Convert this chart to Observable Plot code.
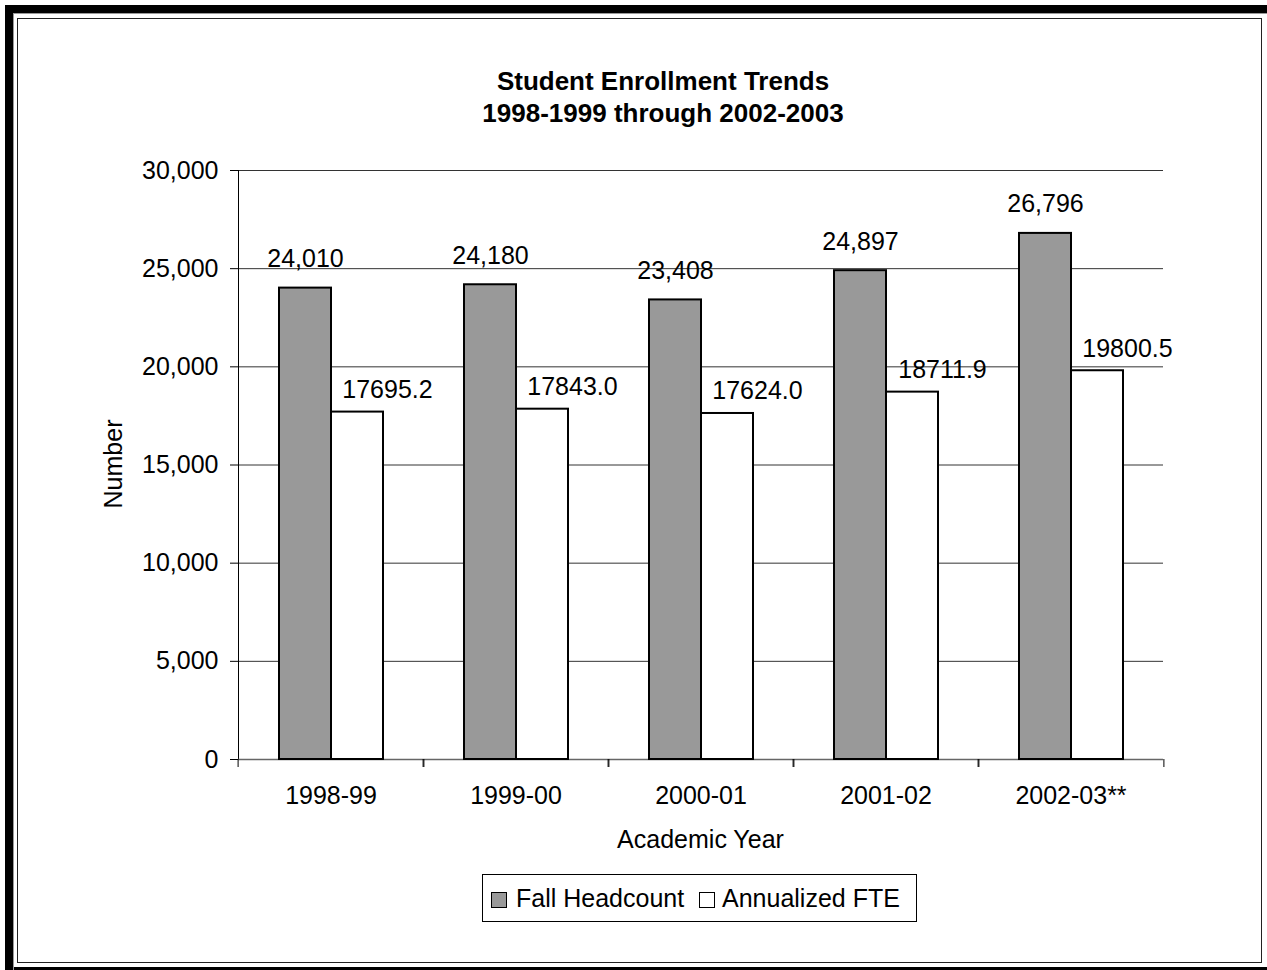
<!DOCTYPE html>
<html>
<head>
<meta charset="utf-8">
<script src="https://cdn.jsdelivr.net/npm/d3@7"></script>
<script src="https://cdn.jsdelivr.net/npm/@observablehq/plot@0.6"></script>
<style>
html, body { margin: 0; padding: 0; background: #fff; overflow: hidden; width: 1267px; height: 970px; }
#page { position: relative; width: 1267px; height: 970px; font-family: Arial, "Liberation Sans", sans-serif; color: #000; overflow: hidden; }
.abs { position: absolute; }
#outer { left: 5px; top: 5px; width: 1320px; height: 954px; border: 8px solid #000; }
#shade { left: 13px; top: 13px; width: 1300px; height: 1000px; border-left: 1px solid #999; border-top: 1px solid #999; }
#inner { left: 17px; top: 18px; width: 1243px; height: 943px; border: 1px solid #222; }
#chart { left: 0; top: 140px; }
#title { left: 413px; top: 65px; width: 500px; text-align: center; font-weight: bold; font-size: 26px; line-height: 32px; }
#ytitle { left: 113px; top: 464px; font-size: 25px; white-space: nowrap; transform: translate(-50%, -50%) rotate(-90deg); line-height: 30px; }
#xtitle { left: 500px; top: 824px; width: 401px; text-align: center; font-size: 25px; line-height: 30px; }
#legend { left: 482px; top: 874px; width: 433px; height: 46px; border: 1px solid #000; background: #fff; font-size: 25px; line-height: 46px; white-space: nowrap; }
.sw { position: absolute; top: 17px; width: 14px; height: 14px; border: 1px solid #000; }
.lab { position: absolute; top: 0; }
</style>
</head>
<body>
<div id="page">
  <div id="outer" class="abs"></div>
  <div id="shade" class="abs"></div>
  <div id="inner" class="abs"></div>
  <div id="chart" class="abs"></div>
  <div id="title" class="abs">Student Enrollment Trends<br>1998-1999 through 2002-2003</div>
  <div id="ytitle" class="abs">Number</div>
  <div id="xtitle" class="abs">Academic Year</div>
  <div id="legend" class="abs"></div>
</div>
<script>
// ---- data ----
const years = ["1998-99", "1999-00", "2000-01", "2001-02", "2002-03**"];
const seriesNames = ["Fall Headcount", "Annualized FTE"];
const fallHeadcount = [24010, 24180, 23408, 24897, 26796];
const annualizedFTE = [17695.2, 17843.0, 17624.0, 18711.9, 19800.5];
const yTicks = [0, 5000, 10000, 15000, 20000, 25000, 30000];
const seriesColors = ["#999999", "#ffffff"];

const data = years.flatMap((year, i) => [
  {year, series: seriesNames[0], value: fallHeadcount[i]},
  {year, series: seriesNames[1], value: annualizedFTE[i]}
]);

const W = 1267, H = 730, mL = 236, mR = 102, mT = 30, mB = 111;
const facetHalf = (W - mL - mR) / years.length / 2;
const fontFam = 'Arial, "Liberation Sans", sans-serif';

const chart = Plot.plot({
  width: W, height: H,
  marginLeft: mL, marginRight: mR, marginTop: mT, marginBottom: mB,
  style: {fontFamily: fontFam, fontSize: "25px", background: "none", overflow: "visible", color: "#000"},
  fx: {domain: years, padding: 0, label: null},
  x: {domain: seriesNames, paddingInner: 0, paddingOuter: 0.753, align: 0.5, axis: null},
  y: {domain: [0, 30000], axis: null},
  color: {domain: seriesNames, range: seriesColors},
  marks: [
    Plot.gridY(yTicks.filter(d => d > 0), {stroke: "#333", strokeOpacity: 1}),
    Plot.axisY(yTicks, {tickFormat: d3.format(","), tickSize: 8, tickPadding: 12, fontSize: 25, label: null, stroke: "#000"}),
    Plot.frame({anchor: "left", facetAnchor: "left", stroke: "#000"}),
    Plot.ruleY([0], {stroke: "#666", strokeWidth: 1.5}),
    Plot.axisFx({anchor: "bottom", tickSize: 8, fill: "none", label: null, dx: -facetHalf, stroke: "#000"}),
    Plot.axisFx({anchor: "bottom", tickSize: 8, fill: "none", label: null, dx: facetHalf, stroke: "#000"}),
    Plot.axisFx({anchor: "bottom", tickSize: 0, tickPadding: 27, fontSize: 25, label: null}),
    Plot.barY(data, {fx: "year", x: "series", y: "value", fill: "series", stroke: "#000", strokeWidth: 2}),
    Plot.text(data.filter(d => d.series === seriesNames[0]), {
      fx: "year", x: "series", y: "value",
      text: d => d3.format(",")(d.value),
      lineAnchor: "middle", dy: -29, fontSize: 25, fill: "#000"
    }),
    Plot.text(data.filter(d => d.series === seriesNames[1]), {
      fx: "year", x: "series", y: "value",
      text: d => d.value.toFixed(1),
      lineAnchor: "middle", dx: 30, dy: -22, fontSize: 25, fill: "#000"
    })
  ]
});
document.getElementById("chart").appendChild(chart);

// legend
const legend = document.getElementById("legend");
const legendPos = [{sw: 8, lab: 33}, {sw: 216, lab: 239}];
seriesNames.forEach((name, i) => {
  const sw = document.createElement("div");
  sw.className = "sw";
  sw.style.left = legendPos[i].sw + "px";
  sw.style.background = seriesColors[i];
  legend.appendChild(sw);
  const lab = document.createElement("div");
  lab.className = "lab";
  lab.style.left = legendPos[i].lab + "px";
  lab.textContent = name;
  legend.appendChild(lab);
});
</script>
</body>
</html>
